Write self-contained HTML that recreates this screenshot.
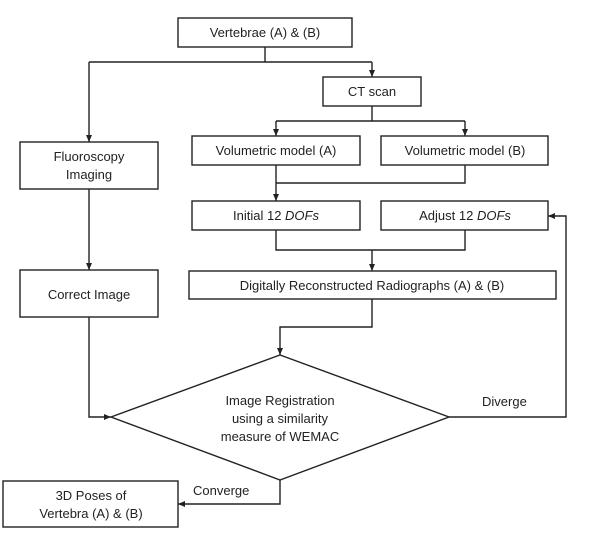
<!DOCTYPE html>
<html><head><style>
body{margin:0;background:#fff;}
svg{display:block;font-family:"Liberation Sans",sans-serif;font-size:13px;fill:#222;}
.b{fill:#fff;stroke:#222;stroke-width:1.4;}
.l{fill:none;stroke:#222;stroke-width:1.4;}
</style></head><body>
<svg width="600" height="547" viewBox="0 0 600 547">
<defs><marker id="a" markerWidth="8" markerHeight="8" refX="7" refY="4" orient="auto" markerUnits="userSpaceOnUse"><path d="M0,1 L7,4 L0,7z" fill="#222"/></marker></defs>
<rect class="b" x="178" y="18" width="174" height="29"/>
<text x="265" y="37" text-anchor="middle">Vertebrae (A) &amp; (B)</text>
<path class="l" d="M265,47V62M89,62H372M89,62V142" marker-end="url(#a)"/>
<path class="l" d="M372,62V77" marker-end="url(#a)"/>
<rect class="b" x="323" y="77" width="98" height="29"/>
<text x="372" y="96" text-anchor="middle">CT scan</text>
<path class="l" d="M372,106V121M276,121H465M276,121V136" marker-end="url(#a)"/>
<path class="l" d="M465,121V136" marker-end="url(#a)"/>
<rect class="b" x="192" y="136" width="168" height="29"/>
<text x="276" y="155" text-anchor="middle">Volumetric model (A)</text>
<rect class="b" x="381" y="136" width="167" height="29"/>
<text x="465" y="155" text-anchor="middle">Volumetric model (B)</text>
<rect class="b" x="20" y="142" width="138" height="47"/>
<text x="89" y="161" text-anchor="middle">Fluoroscopy</text>
<text x="89" y="179" text-anchor="middle">Imaging</text>
<path class="l" d="M465,165V183H276M276,165V201" marker-end="url(#a)"/>
<rect class="b" x="192" y="201" width="168" height="29"/>
<text x="276" y="220" text-anchor="middle">Initial 12 <tspan font-style="italic">DOFs</tspan></text>
<rect class="b" x="381" y="201" width="167" height="29"/>
<text x="465" y="220" text-anchor="middle">Adjust 12 <tspan font-style="italic">DOFs</tspan></text>
<path class="l" d="M276,230V250H465V230M372,250V271" marker-end="url(#a)"/>
<rect class="b" x="189" y="271" width="367" height="28"/>
<text x="372" y="290" text-anchor="middle">Digitally Reconstructed Radiographs (A) &amp; (B)</text>
<path class="l" d="M89,189V270" marker-end="url(#a)"/>
<rect class="b" x="20" y="270" width="138" height="47"/>
<text x="89" y="299" text-anchor="middle">Correct Image</text>
<path class="l" d="M372,299V327H280V355" marker-end="url(#a)"/>
<path class="l" d="M89,317V417H111" marker-end="url(#a)"/>
<polygon class="b" points="111,417 280,355 449,417 280,480"/>
<text x="280" y="405" text-anchor="middle">Image Registration</text>
<text x="280" y="423" text-anchor="middle">using a similarity</text>
<text x="280" y="441" text-anchor="middle">measure of WEMAC</text>
<path class="l" d="M449,417H566V216H548" marker-end="url(#a)"/>
<text x="482" y="406">Diverge</text>
<path class="l" d="M280,480V504H178" marker-end="url(#a)"/>
<text x="193" y="495">Converge</text>
<rect class="b" x="3" y="481" width="175" height="46"/>
<text x="91" y="500" text-anchor="middle">3D Poses of</text>
<text x="91" y="518" text-anchor="middle">Vertebra (A) &amp; (B)</text>
</svg>
</body></html>
